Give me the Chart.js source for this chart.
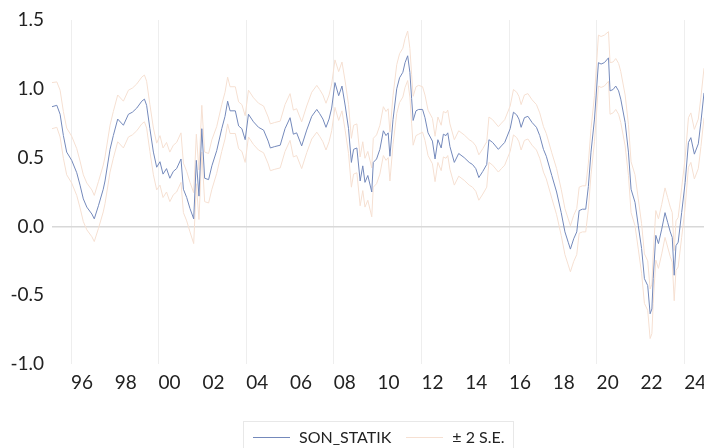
<!DOCTYPE html>
<html>
<head>
<meta charset="utf-8">
<script src="https://cdn.jsdelivr.net/npm/chart.js@4.4.1/dist/chart.umd.min.js"></script>
<style>
  html, body { margin: 0; padding: 0; background: #fff; overflow: hidden; }
  #wrap { position: relative; width: 704px; height: 448px; }
  #legend {
    position: absolute; left: 243px; top: 421px; width: 271px; height: 40px;
    box-sizing: border-box; border: 1px solid #e8e8e8; padding-top: 5px;
    display: flex; align-items: flex-start;
    font-family: Lato, sans-serif; font-size: 16px; color: #222; line-height: 20px;
  }
  #legend .item { display: flex; align-items: center; height: 20px; }
  #legend .swatch { display: inline-block; width: 37px; height: 0; }
  #legend .item1 { margin-left: 9px; }
  #legend .item2 { margin-left: 15px; }
  #legend .txt { margin-left: 9px; }
</style>
</head>
<body>
<div id="wrap">
  <canvas id="chart" width="704" height="448"></canvas>
  <div id="legend">
    <div class="item item1"><span class="swatch" id="sw1"></span><span class="txt">SON_STATIK</span></div>
    <div class="item item2"><span class="swatch" id="sw2"></span><span class="txt">± 2 S.E.</span></div>
  </div>
</div>
<script>
// sample dates (decimal years)
const dates = [
  1995.13, 1995.35, 1995.5, 1995.65, 1995.8, 1996.03, 1996.26, 1996.41, 1996.56, 1996.72, 1996.95,
  1997.06, 1997.25, 1997.47, 1997.55, 1997.78, 1997.93, 1998.13, 1998.39, 1998.62, 1998.8,
  1999.0, 1999.23, 1999.35, 1999.45, 1999.6, 1999.76, 1999.91,
  2000.06, 2000.2, 2000.36, 2000.51, 2000.67, 2000.82, 2001.02, 2001.13, 2001.28, 2001.43, 2001.6,
  2001.72, 2001.84, 2001.97, 2002.1, 2002.28, 2002.43,
  2002.65, 2002.88, 2003.03, 2003.15, 2003.26, 2003.5, 2003.65, 2003.8, 2003.95, 2004.1, 2004.33,
  2004.56, 2004.79, 2005.0, 2005.1, 2005.3, 2005.55, 2005.77, 2006.0, 2006.15, 2006.3, 2006.53,
  2006.76, 2006.99, 2007.22, 2007.35, 2007.5, 2007.64, 2007.78, 2007.9,
  2008.05, 2008.22, 2008.37, 2008.52, 2008.67, 2008.8, 2008.9, 2009.05, 2009.2, 2009.32, 2009.42,
  2009.55, 2009.73, 2009.8, 2009.95, 2010.1, 2010.26, 2010.38, 2010.48, 2010.56, 2010.7, 2010.87,
  2011.0, 2011.15, 2011.25, 2011.37, 2011.47, 2011.55, 2011.62, 2011.75, 2011.87,
  2012.05, 2012.16, 2012.3, 2012.5, 2012.62, 2012.75, 2012.9, 2013.0, 2013.12, 2013.2, 2013.3,
  2013.5, 2013.7, 2013.95, 2014.18, 2014.33, 2014.48, 2014.62, 2014.8, 2014.98, 2015.08, 2015.25,
  2015.51, 2015.65, 2015.8, 2016.05, 2016.2, 2016.35, 2016.45, 2016.55, 2016.7, 2016.86, 2017.05,
  2017.25, 2017.4, 2017.57, 2017.7, 2017.95,
  2018.17, 2018.38, 2018.55, 2018.7, 2018.8, 2018.95, 2019.09, 2019.2, 2019.35, 2019.5, 2019.62,
  2019.74, 2019.9,
  2020.08, 2020.2, 2020.35, 2020.54, 2020.61, 2020.75, 2020.87, 2021.0, 2021.1, 2021.3, 2021.45,
  2021.57, 2021.75, 2021.9,
  2022.05, 2022.18, 2022.33, 2022.44, 2022.52, 2022.58, 2022.7, 2022.82, 2022.97, 2023.12, 2023.24,
  2023.36, 2023.45, 2023.54, 2023.62, 2023.72, 2023.88, 2024.04, 2024.19, 2024.3, 2024.46, 2024.64,
  2024.76, 2024.9
];

const son = [
  0.87, 0.88, 0.815, 0.66, 0.54, 0.48, 0.39, 0.30, 0.20, 0.14, 0.09,
  0.055, 0.15, 0.27, 0.33, 0.56, 0.66, 0.78, 0.735, 0.815, 0.83,
  0.86, 0.91, 0.925, 0.88, 0.71, 0.54, 0.43,
  0.47, 0.38, 0.42, 0.35, 0.40, 0.42, 0.49, 0.27, 0.21, 0.13, 0.055,
  0.48, 0.22, 0.71, 0.35, 0.34, 0.44,
  0.55, 0.71, 0.80, 0.91, 0.84, 0.84, 0.73, 0.71, 0.63, 0.815, 0.76,
  0.72, 0.70, 0.62, 0.57, 0.58, 0.59, 0.71, 0.79, 0.67, 0.68, 0.585,
  0.70, 0.80, 0.85, 0.82, 0.78, 0.72, 0.78, 0.86,
  1.045, 0.95, 1.02, 0.875, 0.71, 0.465, 0.56, 0.57, 0.33, 0.44, 0.32,
  0.37, 0.25, 0.465, 0.49, 0.56, 0.695, 0.66, 0.68, 0.51, 0.775, 1.0,
  1.08, 1.12, 1.19, 1.24, 1.12, 0.93, 0.77, 0.84, 0.85,
  0.85, 0.79, 0.68, 0.62, 0.49, 0.63, 0.57, 0.67, 0.66, 0.68, 0.58,
  0.465, 0.53, 0.50, 0.465, 0.45, 0.42, 0.355, 0.40, 0.45, 0.63, 0.61,
  0.56, 0.585, 0.61, 0.71, 0.83, 0.81, 0.78, 0.72, 0.79, 0.80, 0.755,
  0.72, 0.66, 0.56, 0.51, 0.37,
  0.25, 0.10, -0.04, -0.115, -0.165, -0.09, -0.04, 0.115, 0.125, 0.125, 0.29,
  0.54, 0.78,
  1.19, 1.18, 1.19, 1.225, 0.985, 0.995, 1.02, 0.985, 0.925, 0.755, 0.54,
  0.27, 0.175, 0.005,
  -0.16, -0.38, -0.43, -0.635, -0.60, -0.38, -0.065, -0.125, -0.02, 0.10, 0.03,
  -0.04, -0.08, -0.355, -0.14, -0.115, 0.10, 0.32, 0.61, 0.645, 0.525, 0.60,
  0.76, 0.97
];

const upper = [
  1.045, 1.05, 0.99, 0.835, 0.715, 0.655, 0.565, 0.475, 0.375, 0.315, 0.265,
  0.225, 0.325, 0.445, 0.505, 0.735, 0.835, 0.955, 0.91, 0.99, 1.005,
  1.035, 1.085, 1.10, 1.055, 0.885, 0.715, 0.605,
  0.66, 0.57, 0.61, 0.54, 0.59, 0.61, 0.68, 0.46, 0.40, 0.32, 0.245,
  0.67, 0.41, 0.88, 0.54, 0.53, 0.63,
  0.725, 0.885, 0.975, 1.085, 1.015, 1.015, 0.905, 0.885, 0.805, 0.99, 0.935,
  0.895, 0.875, 0.795, 0.745, 0.755, 0.765, 0.885, 0.965, 0.845, 0.855, 0.76,
  0.875, 0.975, 1.025, 0.995, 0.955, 0.895, 0.955, 1.035,
  1.21, 1.125, 1.195, 1.05, 0.885, 0.64, 0.735, 0.745, 0.505, 0.615, 0.495,
  0.545, 0.425, 0.64, 0.665, 0.735, 0.87, 0.835, 0.855, 0.685, 0.95, 1.175,
  1.255, 1.295, 1.365, 1.42, 1.295, 1.105, 0.945, 1.015, 1.025,
  1.015, 0.955, 0.845, 0.785, 0.655, 0.795, 0.735, 0.835, 0.825, 0.845, 0.745,
  0.63, 0.695, 0.665, 0.63, 0.615, 0.585, 0.52, 0.565, 0.615, 0.795, 0.775,
  0.725, 0.75, 0.775, 0.875, 0.995, 0.975, 0.945, 0.885, 0.955, 0.965, 0.92,
  0.885, 0.825, 0.725, 0.675, 0.535,
  0.42, 0.27, 0.13, 0.055, 0.005, 0.08, 0.13, 0.285, 0.295, 0.295, 0.46,
  0.71, 0.95,
  1.39, 1.38, 1.39, 1.415, 1.19, 1.195, 1.22, 1.185, 1.125, 0.955, 0.74,
  0.47, 0.375, 0.20,
  0.02, -0.20, -0.25, -0.455, -0.42, -0.20, 0.115, 0.055, 0.16, 0.28, 0.21,
  0.14, 0.10, -0.175, 0.04, 0.065, 0.28, 0.50, 0.79, 0.825, 0.705, 0.78,
  0.94, 1.15
];

const lower = [
  0.71, 0.72, 0.65, 0.495, 0.375, 0.315, 0.225, 0.135, 0.035, -0.025, -0.075,
  -0.11, -0.015, 0.105, 0.165, 0.395, 0.495, 0.615, 0.57, 0.65, 0.665,
  0.695, 0.745, 0.76, 0.715, 0.545, 0.375, 0.265,
  0.30, 0.21, 0.25, 0.18, 0.23, 0.25, 0.32, 0.10, 0.04, -0.04, -0.125,
  0.31, 0.05, 0.54, 0.18, 0.17, 0.27,
  0.385, 0.545, 0.635, 0.745, 0.675, 0.675, 0.565, 0.545, 0.465, 0.65, 0.595,
  0.555, 0.535, 0.455, 0.405, 0.415, 0.425, 0.545, 0.625, 0.505, 0.515, 0.42,
  0.535, 0.635, 0.685, 0.655, 0.615, 0.555, 0.615, 0.695,
  0.865, 0.77, 0.84, 0.695, 0.53, 0.285, 0.38, 0.39, 0.15, 0.26, 0.14,
  0.19, 0.07, 0.285, 0.31, 0.38, 0.515, 0.48, 0.50, 0.33, 0.595, 0.82,
  0.90, 0.94, 1.01, 1.06, 0.94, 0.75, 0.59, 0.66, 0.67,
  0.685, 0.625, 0.515, 0.455, 0.325, 0.465, 0.405, 0.505, 0.495, 0.515, 0.415,
  0.30, 0.365, 0.335, 0.30, 0.285, 0.255, 0.19, 0.235, 0.285, 0.465, 0.445,
  0.395, 0.42, 0.445, 0.545, 0.665, 0.645, 0.615, 0.555, 0.625, 0.635, 0.59,
  0.555, 0.495, 0.395, 0.345, 0.205,
  0.085, -0.065, -0.205, -0.28, -0.33, -0.255, -0.205, -0.05, -0.04, -0.04, 0.125,
  0.375, 0.615,
  1.02, 1.01, 1.02, 1.055, 0.815, 0.825, 0.85, 0.815, 0.755, 0.585, 0.37,
  0.10, 0.005, -0.165,
  -0.34, -0.56, -0.61, -0.815, -0.78, -0.56, -0.245, -0.305, -0.20, -0.08, -0.15,
  -0.22, -0.26, -0.54, -0.32, -0.295, -0.08, 0.14, 0.43, 0.465, 0.345, 0.42,
  0.58, 0.79
];

// axis labels
const labelYears = [1996, 1998, 2000, 2002, 2004, 2006, 2008, 2010, 2012, 2014, 2016, 2018, 2020, 2022, 2024];
const gridYears = [1996, 2000, 2004, 2008, 2012, 2016, 2020, 2024];
const yTicks = [-1.0, -0.5, 0.0, 0.5, 1.0, 1.5];

const seriesColor = '#7489bb';
const bandColor = '#f6e0d2';
const textColor = '#222';
const fontFamily = 'Lato, sans-serif';

document.getElementById('sw1').style.borderTop = '1px solid ' + seriesColor;
document.getElementById('sw2').style.borderTop = '1px solid ' + bandColor;

const toPoints = vals => dates.map((d, i) => ({ x: d, y: vals[i] }));

const lineStyle = (label, data, color) => ({
  label: label,
  data: data,
  borderColor: color,
  borderWidth: 1,
  pointRadius: 0,
  tension: 0,
  fill: false
});

new Chart(document.getElementById('chart'), {
  type: 'line',
  data: {
    datasets: [
      lineStyle('SON_STATIK', toPoints(son), seriesColor),
      lineStyle('± 2 S.E.', toPoints(upper), bandColor),
      lineStyle('± 2 S.E. (lower)', toPoints(lower), bandColor)
    ]
  },
  options: {
    responsive: false,
    animation: false,
    events: [],
    layout: { padding: { top: 20, bottom: 54, left: 0, right: 0 } },
    plugins: { legend: { display: false }, tooltip: { enabled: false } },
    scales: {
      x: {
        type: 'linear',
        min: 1995.13,
        max: 2024.9,
        border: { display: false },
        grid: {
          drawTicks: false,
          lineWidth: 1,
          color: ctx => (ctx.tick && Number.isInteger(ctx.tick.value)) ? '#eeeeee' : 'rgba(0,0,0,0)'
        },
        ticks: {
          autoSkip: false,
          maxRotation: 0,
          padding: 7,
          color: textColor,
          font: { family: fontFamily, size: 19 },
          callback: v => Number.isInteger(v) ? '' : String(Math.floor(v)).slice(2)
        },
        afterBuildTicks: scale => {
          const t = gridYears.map(y => ({ value: y }))
            .concat(labelYears.map(y => ({ value: y + 0.5 })));
          scale.ticks = t.sort((a, b) => a.value - b.value);
        },
        afterFit: scale => {
          scale.height = 30;
          scale.paddingLeft = 0;
          scale.paddingRight = 0;
        }
      },
      y: {
        min: -1,
        max: 1.5,
        border: { display: false },
        grid: {
          drawTicks: false,
          lineWidth: 1.5,
          color: ctx => (ctx.tick && ctx.tick.value === 0) ? '#d8d8d8' : 'rgba(0,0,0,0)'
        },
        ticks: {
          padding: 8,
          color: textColor,
          font: { family: fontFamily, size: 19 },
          callback: v => v.toFixed(1)
        },
        afterBuildTicks: scale => {
          scale.ticks = yTicks.map(v => ({ value: v }));
        },
        afterFit: scale => {
          scale.width = 52;
          scale.paddingTop = 0;
          scale.paddingBottom = 0;
        }
      }
    }
  }
});
</script>
</body>
</html>
